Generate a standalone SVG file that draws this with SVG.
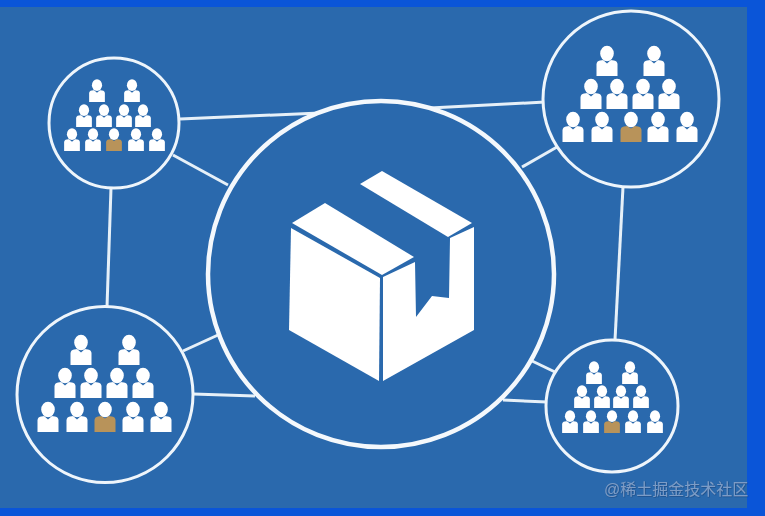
<svg xmlns="http://www.w3.org/2000/svg" width="765" height="516" viewBox="0 0 765 516">
<style>
.ring{fill:#2a69ad;stroke:#eef5fb;stroke-width:3}
.hub{fill:#2a69ad;stroke:#f4f8fc;stroke-width:4.5}
.link{stroke:#e6f0f8;stroke-width:3;fill:none;stroke-linecap:butt}
.box{fill:#fff}
.p{fill:#fff}
.g{fill:#b8935a}
.n{fill:#2a69ad}
.mark{font-family:"Liberation Sans","Noto Sans CJK SC",sans-serif;font-size:16px;fill:#7b9cc6;filter:url(#shadow)}
</style>
<defs>
<filter id="soft" filterUnits="userSpaceOnUse" x="0" y="0" width="765" height="516"><feGaussianBlur stdDeviation="0.55"/></filter>
<filter id="shadow" x="-5%" y="-20%" width="110%" height="140%"><feDropShadow dx="0.6" dy="0.6" stdDeviation="0.6" flood-color="#1c4a80"/></filter>
<g id="body"><path d="M-10.500 0V-11.500Q-10.500 -15 -7 -15.500L0 -16.500L7 -15.500Q10.500 -15 10.500 -11.500V0Z"/></g>
<g id="person"><use href="#body" class="p"/><path class="n" d="M-4.500 -16.500L0 -12.500L4.500 -16.500L0 -20Z"/><ellipse class="p" cx="0" cy="-22.500" rx="6.800" ry="7.800"/></g>
<g id="gold"><use href="#body" class="g"/><path class="n" d="M-4.500 -16.500L0 -13.500L4.500 -16.500L0 -20Z"/><ellipse class="p" cx="0" cy="-22.500" rx="6.800" ry="7.800"/></g>
</defs>
<rect width="765" height="516" fill="#0a55d8"/>
<rect x="0" y="7" width="747" height="501" fill="#2a69ad"/>
<g filter="url(#soft)">
<g id="connectors">
<path class="link" d="M180 119L320 113"/>
<path class="link" d="M173 155L228 185"/>
<path class="link" d="M111 188L107 307"/>
<path class="link" d="M430 108L545 102"/>
<path class="link" d="M522 167L557 147"/>
<path class="link" d="M623 187L615 340"/>
<path class="link" d="M183 351L218 335"/>
<path class="link" d="M193 394L255 396"/>
<path class="link" d="M530 360L555 372"/>
<path class="link" d="M503 400L547 402"/>
</g>
<g id="hub">
<circle class="hub" cx="381" cy="274" r="173"/>
<polygon class="box" points="292,223 325,203 414,257 382,275"/>
<polygon class="box" points="291,228 380,278 379,381 289,330"/>
<polygon class="box" points="360,184 382,171 472,223 448,237"/>
<polygon class="box" points="383,277 415,262 416,317 432,296 449,298 450,238 474,227 474,330 383,381"/>
</g>
<g id="node-top-left">
<circle class="ring" cx="114" cy="123" r="65"/>
<g transform="translate(97 102) scale(.75)"><use href="#person"/></g>
<g transform="translate(132 102) scale(.75)"><use href="#person"/></g>
<g transform="translate(84 127) scale(.75)"><use href="#person"/></g>
<g transform="translate(104 127) scale(.75)"><use href="#person"/></g>
<g transform="translate(124 127) scale(.75)"><use href="#person"/></g>
<g transform="translate(143 127) scale(.75)"><use href="#person"/></g>
<g transform="translate(72 151) scale(.75)"><use href="#person"/></g>
<g transform="translate(93 151) scale(.75)"><use href="#person"/></g>
<g transform="translate(114 151) scale(.75)"><use href="#gold"/></g>
<g transform="translate(136 151) scale(.75)"><use href="#person"/></g>
<g transform="translate(157 151) scale(.75)"><use href="#person"/></g>
</g>
<g id="node-top-right">
<circle class="ring" cx="631" cy="99" r="88"/>
<use href="#person" x="607" y="76"/>
<use href="#person" x="654" y="76"/>
<use href="#person" x="591" y="109"/>
<use href="#person" x="617" y="109"/>
<use href="#person" x="643" y="109"/>
<use href="#person" x="669" y="109"/>
<use href="#person" x="573" y="142"/>
<use href="#person" x="602" y="142"/>
<use href="#gold" x="631" y="142"/>
<use href="#person" x="658" y="142"/>
<use href="#person" x="687" y="142"/>
</g>
<g id="node-bottom-left">
<circle class="ring" cx="105" cy="394.500" r="88"/>
<use href="#person" x="81" y="365"/>
<use href="#person" x="129" y="365"/>
<use href="#person" x="65" y="398"/>
<use href="#person" x="91" y="398"/>
<use href="#person" x="117" y="398"/>
<use href="#person" x="143" y="398"/>
<use href="#person" x="48" y="432"/>
<use href="#person" x="77" y="432"/>
<use href="#gold" x="105" y="432"/>
<use href="#person" x="133" y="432"/>
<use href="#person" x="161" y="432"/>
</g>
<g id="node-bottom-right">
<circle class="ring" cx="612" cy="406" r="66"/>
<g transform="translate(594 384) scale(.75)"><use href="#person"/></g>
<g transform="translate(630 384) scale(.75)"><use href="#person"/></g>
<g transform="translate(582 408) scale(.75)"><use href="#person"/></g>
<g transform="translate(602 408) scale(.75)"><use href="#person"/></g>
<g transform="translate(621 408) scale(.75)"><use href="#person"/></g>
<g transform="translate(641 408) scale(.75)"><use href="#person"/></g>
<g transform="translate(570 433) scale(.75)"><use href="#person"/></g>
<g transform="translate(591 433) scale(.75)"><use href="#person"/></g>
<g transform="translate(612 433) scale(.75)"><use href="#gold"/></g>
<g transform="translate(633 433) scale(.75)"><use href="#person"/></g>
<g transform="translate(655 433) scale(.75)"><use href="#person"/></g>
</g>
</g>
<text class="mark" x="604" y="495">@稀土掘金技术社区</text>
</svg>
